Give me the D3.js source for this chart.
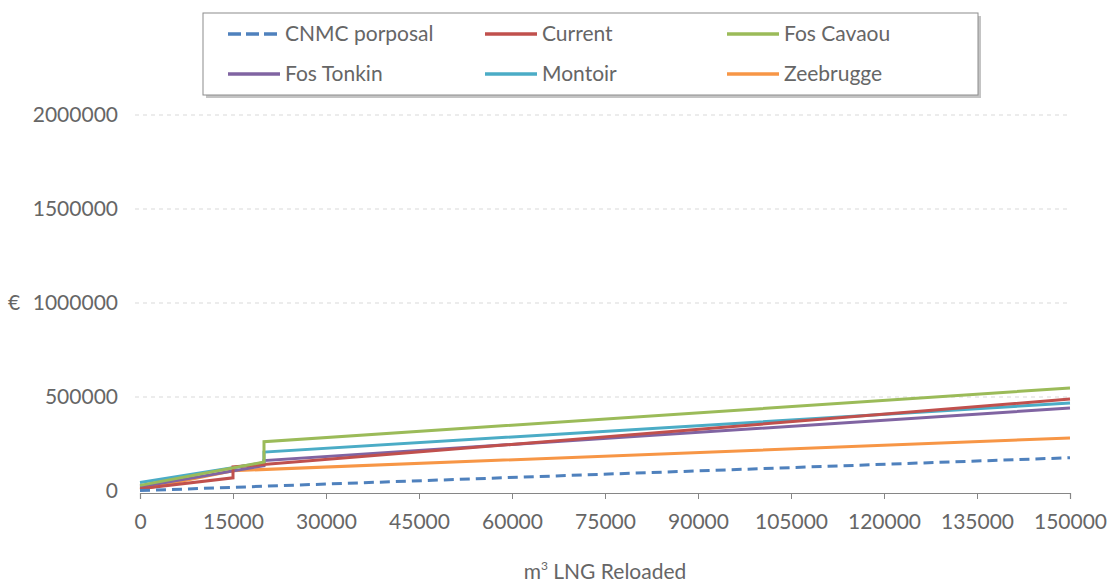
<!DOCTYPE html>
<html><head><meta charset="utf-8">
<script src="https://cdn.jsdelivr.net/npm/d3@7"></script>
<style>
body{margin:0;background:#fff;}
text{font-family:Lato,"Open Sans",sans-serif;fill:#666666;}
</style></head>
<body><svg id="c" width="1110" height="583"></svg>
<script>
const seriesNames = ["CNMC porposal","Current","Fos Cavaou","Fos Tonkin","Montoir","Zeebrugge"];
const seriesColors = ["#4f81bd","#c0504d","#9bbb59","#8064a2","#4bacc6","#f79646"];
// [m3, €] points (steps are vertical jumps)
const cnmc      = [[0,2000],[150000,177000]];
const current   = [[0,12000],[15000,70000],[15000,128000],[150000,489000]];
const fosCavaou = [[0,30000],[20000,154000],[20000,262000],[150000,548000]];
const fosTonkin = [[0,22000],[20000,135000],[20000,162000],[150000,441000]];
const montoir   = [[0,45000],[20000,150000],[20000,207000],[150000,468000]];
const zeebrugge = [[0,8000],[15000,108000],[150000,282000]];
const xTicks = [0,15000,30000,45000,60000,75000,90000,105000,120000,135000,150000];
const yTicks = [0,500000,1000000,1500000,2000000];
const xTitle = "LNG Reloaded";
const yTitle = "€";

const FS = 21;
const data = [cnmc,current,fosCavaou,fosTonkin,montoir,zeebrugge];
const svg = d3.select("#c");
const x = d3.scaleLinear().domain([0,150000]).range([140,1070]);
const y = d3.scaleLinear().domain([0,2000000]).range([491,115]);

// gridlines
svg.append("g").selectAll("line").data(yTicks.slice(1)).join("line")
  .attr("x1",135).attr("x2",1070).attr("y1",d=>y(d)).attr("y2",d=>y(d))
  .attr("stroke","#d9d9d9").attr("stroke-width",1).attr("stroke-dasharray","4,4");

// y labels
svg.append("g").selectAll("text").data(yTicks).join("text")
  .attr("x",118).attr("y",d=>y(d)).attr("dy","0.35em").attr("text-anchor","end")
  .attr("font-size",FS).text(d=>d);
svg.append("text").attr("x",8).attr("y",y(1000000)).attr("dy","0.35em")
  .attr("font-size",FS).text(yTitle);

// x axis
const xa = svg.append("g").attr("transform","translate(0,493)")
  .call(d3.axisBottom(x).tickValues(xTicks).tickSize(6).tickPadding(15).tickFormat(d=>d));
xa.select(".domain").attr("stroke","#868686").attr("stroke-width",1.2);
xa.selectAll(".tick line").attr("stroke","#868686");
xa.selectAll(".tick text").attr("font-size",FS).attr("fill","#666666").attr("font-family","Lato");

const xt = svg.append("text").attr("x",605).attr("y",579).attr("text-anchor","middle").attr("font-size",FS);
xt.append("tspan").text("m");
xt.append("tspan").attr("font-size",12).attr("dy",-9).text("3");
xt.append("tspan").attr("dy",9).text(" "+xTitle);

// lines
const line = d3.line().x(d=>x(d[0])).y(d=>y(d[1]));
const order = [5,3,4,1,2,0];
order.forEach(i=>{
  svg.append("path").datum(data[i]).attr("d",line).attr("fill","none")
    .attr("stroke",seriesColors[i]).attr("stroke-width",3)
    .attr("stroke-dasharray", i===0?"10,6":null);
});

// legend
const lg = svg.append("g");
lg.append("rect").attr("x",206).attr("y",16).attr("width",775).attr("height",82).attr("fill","#c4c4c4");
lg.append("rect").attr("x",203).attr("y",13).attr("width",775).attr("height",82)
  .attr("fill","#fff").attr("stroke","#8c8c8c").attr("stroke-width",1);
const cols = [228,485,727], rows = [34,74];
seriesNames.forEach((n,i)=>{
  const cx = cols[i%3], cy = rows[Math.floor(i/3)];
  lg.append("line").attr("x1",cx).attr("x2",cx+52).attr("y1",cy).attr("y2",cy)
    .attr("stroke",seriesColors[i]).attr("stroke-width",3.5)
    .attr("stroke-dasharray", i===0?"13,5":null);
  lg.append("text").attr("x",cx+57).attr("y",cy).attr("dy","0.35em").attr("font-size",FS).text(n);
});
</script></body></html>
